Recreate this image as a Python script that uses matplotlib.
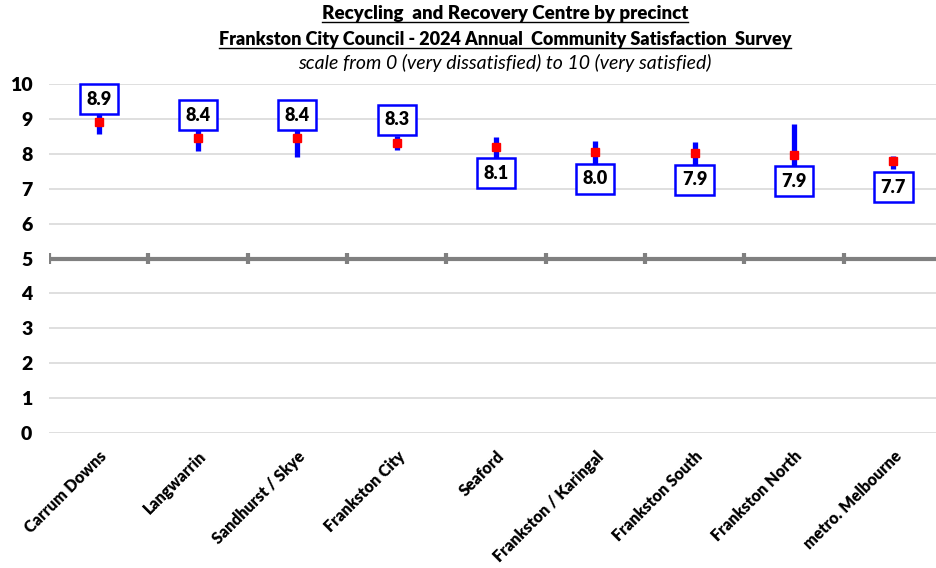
import matplotlib
matplotlib.use("Agg")
import matplotlib.pyplot as plt
from matplotlib.lines import Line2D
import numpy as np

plt.rcParams['font.family'] = ['Lato', 'DejaVu Sans']

# precinct results (mean score and 95% confidence interval)
precincts = ["Carrum Downs", "Langwarrin", "Sandhurst / Skye", "Frankston City",
             "Seaford", "Frankston / Karingal", "Frankston South", "Frankston North",
             "metro. Melbourne"]
means = [8.90, 8.44, 8.44, 8.31, 8.19, 8.04, 8.01, 7.97, 7.79]
lower = [8.56, 8.08, 7.90, 8.11, 7.89, 7.71, 7.69, 7.09, 7.56]
upper = [9.24, 8.80, 8.98, 8.51, 8.49, 8.37, 8.33, 8.85, 7.94]
value_labels = ["8.9", "8.4", "8.4", "8.3", "8.1", "8.0", "7.9", "7.9", "7.7"]
label_above = [True, True, True, True, False, False, False, False, False]

title_lines = ["Recycling  and Recovery Centre by precinct",
               "Frankston City Council - 2024 Annual  Community Satisfaction  Survey"]
subtitle = "scale from 0 (very dissatisfied) to 10 (very satisfied)"

W, H = 937, 568
fig = plt.figure(figsize=(W / 100, H / 100), dpi=100)
ax = fig.add_axes([49 / W, 1 - 433 / H, (943 - 49) / W, (433 - 84) / H])

x = np.arange(len(precincts))
ax.set_xlim(-0.5, len(precincts) - 0.5)
ax.set_ylim(0, 10)

# gridlines
for yv in range(0, 11):
    if yv != 5:
        ax.axhline(yv, color="#d9d9d9", lw=1.2, zorder=0)

# midpoint axis line with category separators
ax.axhline(5, color="#808080", lw=3, zorder=1)
ax.vlines(np.arange(len(precincts)) - 0.5, 4.83, 5.17, color="#808080", lw=3, zorder=1)

# confidence intervals and means
ax.vlines(x, lower, upper, color="#0000ff", lw=3.8, zorder=3)
ax.plot(x, means, ls="none", marker="s", ms=5.5, color="#ff0000", zorder=4)

for xi, m, lab, above in zip(x, means, value_labels, label_above):
    yl = m + 0.66 if above else m - 0.75
    ax.text(xi, yl, lab, ha="center", va="center", fontsize=13, fontweight="heavy",
            zorder=5, clip_on=False,
            bbox=dict(boxstyle="square,pad=0.36", fc="white", ec="#0000ff", lw=1.8))

for s in ax.spines.values():
    s.set_visible(False)

ax.set_yticks(range(0, 11))
ax.tick_params(axis="y", length=0, pad=12, labelsize=14)
for t in ax.get_yticklabels():
    t.set_fontweight("heavy")

ax.set_xticks(x)
ax.set_xticklabels(precincts, rotation=45, ha="right", va="top",
                   rotation_mode="anchor", fontsize=11.5, fontweight="heavy")
ax.tick_params(axis="x", length=0, pad=11)

# titles
cx = 505 / W
t1 = fig.text(cx, 1 - 14 / H, title_lines[0], ha="center", va="center",
              fontsize=13.5, fontweight="heavy")
t2 = fig.text(cx, 1 - 40 / H, title_lines[1], ha="center", va="center",
              fontsize=13, fontweight="heavy")
fig.text(cx, 1 - 63 / H, subtitle, ha="center", va="center",
         fontsize=14, fontstyle="italic")

# underline the two title lines
fig.canvas.draw()
r = fig.canvas.get_renderer()
for t in (t1, t2):
    bb = t.get_window_extent(renderer=r)
    yline = (bb.y0 + 1) / H
    fig.add_artist(Line2D([bb.x0 / W, bb.x1 / W], [yline, yline],
                          color="black", lw=1.0, transform=fig.transFigure))

fig.savefig("out.png", dpi=100)
